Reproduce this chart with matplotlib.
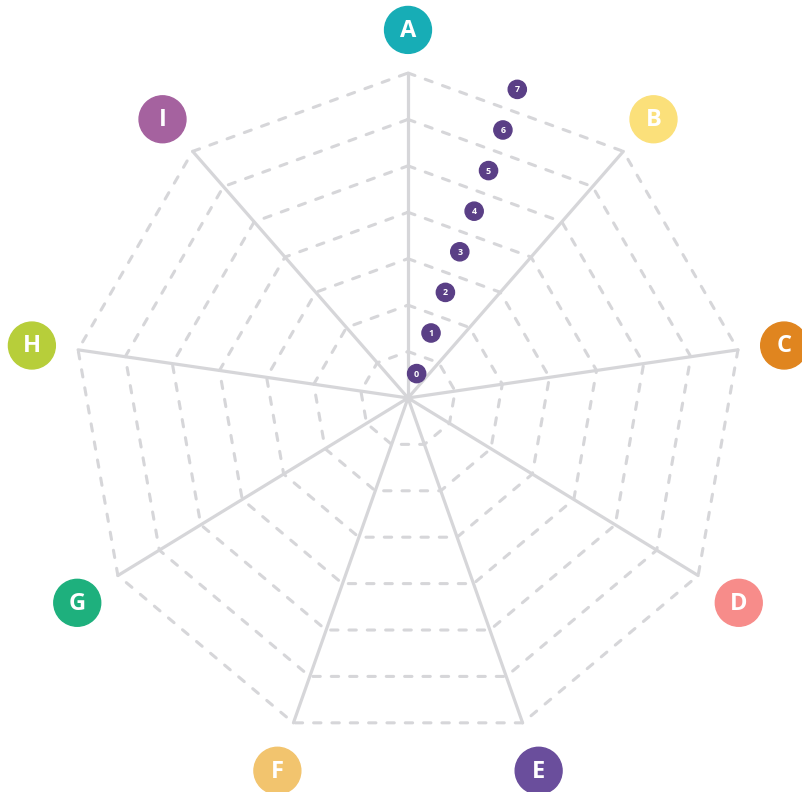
import numpy as np
import matplotlib
matplotlib.use("Agg")
import matplotlib.pyplot as plt
from matplotlib.patches import Circle

# categories around the web, clockwise from the top
categories = ['A', 'B', 'C', 'D', 'E', 'F', 'G', 'H', 'I']
cat_colors = ['#17adb6', '#fbe07a', '#e0851f', '#f78c8a', '#6a4e9c',
              '#f2c46e', '#1eb07d', '#b7ce3a', '#a5629f']
levels = [0, 1, 2, 3, 4, 5, 6, 7]
level_color = '#5a3f86'
grid_color = '#d6d6d9'

n = len(categories)
top = max(levels)
theta = np.arange(n) * 2 * np.pi / n

fig = plt.figure(figsize=(8.02, 7.92), dpi=100)
ax = fig.add_axes([0, 0, 1, 1])
ax.set_xlim(-8.525, 8.232)
ax.set_ylim(-8.023, 8.525)
ax.set_aspect('equal')
ax.axis('off')

# outer polygon is regular, spokes meet a bit above its centre
hub = np.array([0.0, 0.21])
outer = np.column_stack([top * np.sin(theta), top * np.cos(theta)])

# dashed rings
for k in levels[1:]:
    ring = hub + k / top * (outer - hub)
    ring = np.vstack([ring, ring[:1]])
    ax.plot(ring[:, 0], ring[:, 1], color=grid_color, lw=2.2,
            linestyle=(0, (2.4, 3.6)), dash_capstyle='round', zorder=1)

# spokes
for v in outer:
    ax.plot([hub[0], v[0]], [hub[1], v[1]], color=grid_color, lw=2.3,
            solid_capstyle='round', zorder=2)

# level badges between A and B, a little left of the bisector
ang_b = np.deg2rad(19.5)
direc = np.array([np.sin(ang_b), np.cos(ang_b)])
step = 0.9
for k in levels:
    p = hub + (k * step + 0.54) * direc
    ax.add_patch(Circle(p, 0.19, color=level_color, zorder=4))
    ax.text(p[0], p[1] - 0.01, str(k), color='white', fontsize=6.4,
            fontweight='bold', ha='center', va='center', zorder=5,
            family='Open Sans')

# category badges
label_c = np.array([0.0, -0.08])
for ang, lab, col in zip(theta, categories, cat_colors):
    p = label_c + 7.98 * np.array([np.sin(ang), np.cos(ang)])
    ax.add_patch(Circle(p, 0.49, color=col, zorder=4))
    ax.text(p[0], p[1] - 0.02, lab, color='white', fontsize=17,
            fontweight='bold', ha='center', va='center', zorder=5,
            family='Open Sans')

fig.savefig('out.png', dpi=100)
